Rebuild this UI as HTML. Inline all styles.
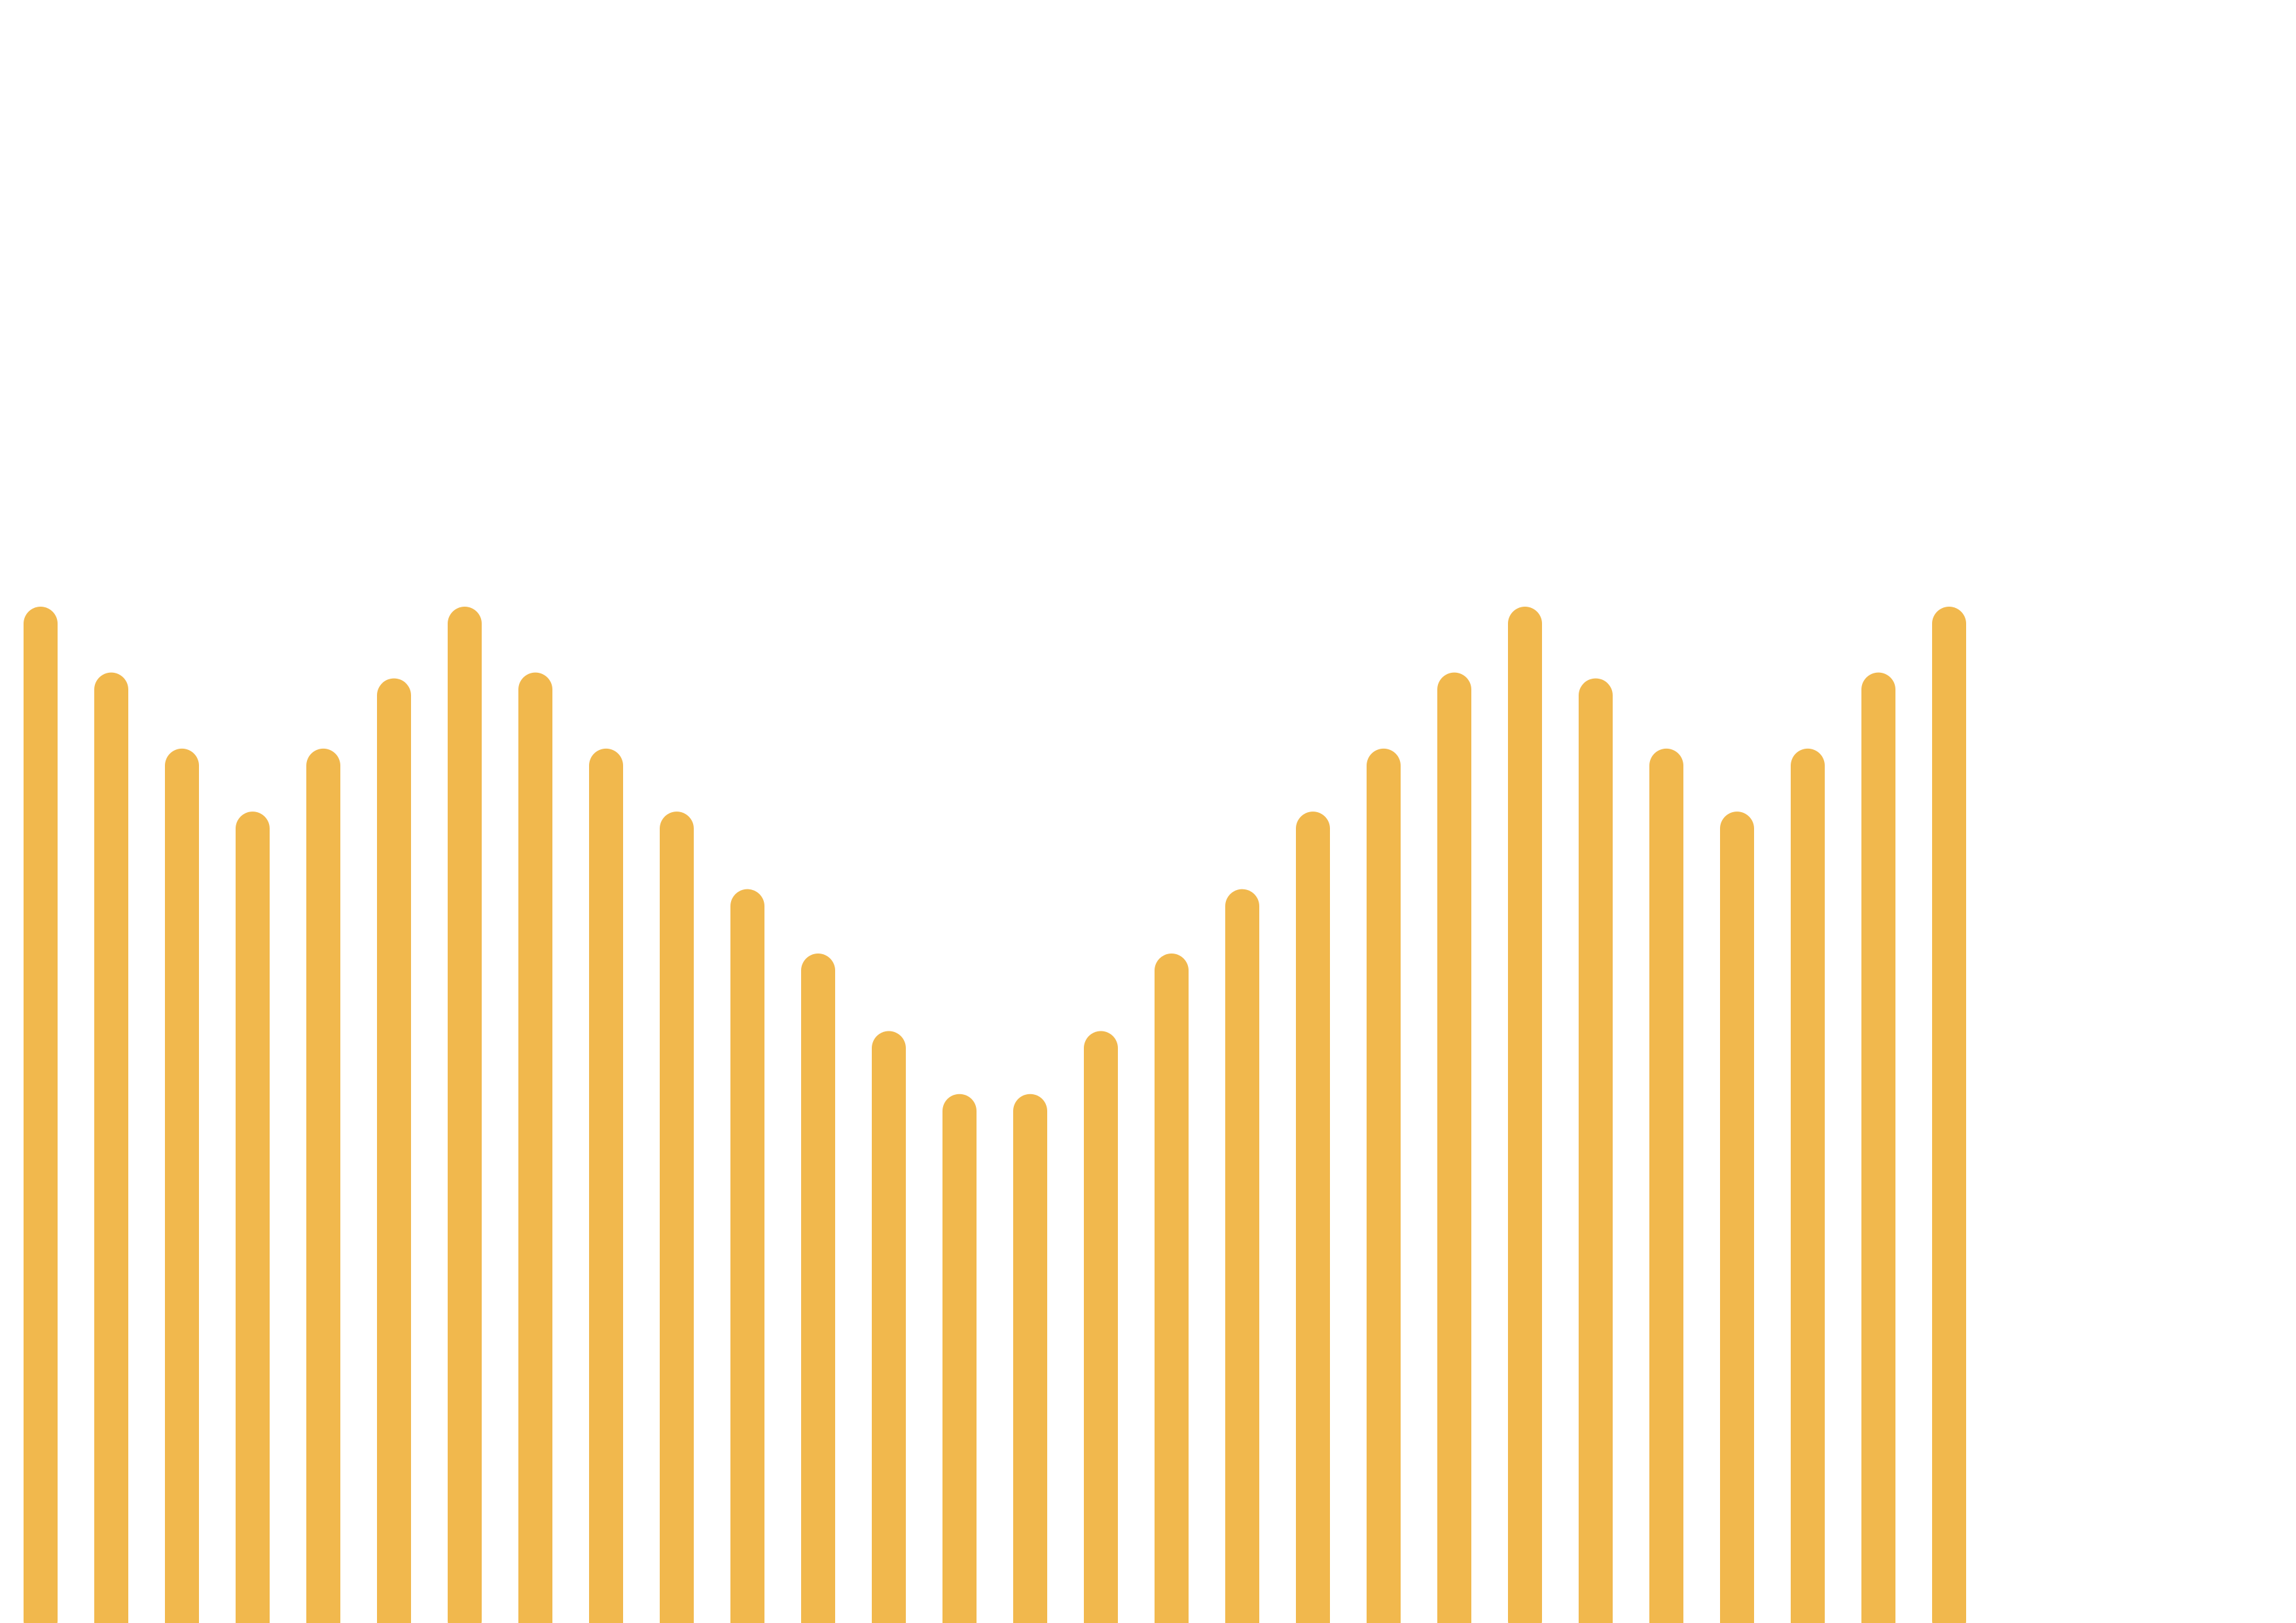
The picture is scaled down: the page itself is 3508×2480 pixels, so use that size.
<!DOCTYPE html>
<html><head><meta charset="utf-8"><style>html,body{margin:0;padding:0;background:#fff;overflow:hidden;}svg{display:block;}</style></head>
<body>
<svg id="chart" width="3508" height="2480" viewBox="0 0 3508 2480" xmlns="http://www.w3.org/2000/svg"></svg>
<script>
const categories = Array.from({length:28},(_,i)=>'c'+(i+1));
const values = [694,649,597,554,597,645,694,649,597,554,501,457,404,361,361,404,457,501,554,597,649,694,645,597,554,597,649,694];
const svg = document.getElementById('chart');
const NS = 'http://www.w3.org/2000/svg';
const baseY = 2479, maxV = 694, plotH = 1552;
const x0 = 36, step = 108, bw = 52;
function xScale(i){ return x0 + i*step; }
function yScale(v){ return baseY - v/maxV*plotH; }
values.forEach((v,i)=>{
  const top = yScale(v);
  const bottom = v >= maxV ? baseY + 23 : baseY + 60;
  const r = document.createElementNS(NS,'rect');
  r.setAttribute('x', xScale(i));
  r.setAttribute('y', top);
  r.setAttribute('width', bw);
  r.setAttribute('height', bottom - top);
  r.setAttribute('rx', 26);
  r.setAttribute('fill', '#F1B84D');
  
  
  svg.appendChild(r);
});
</script>
</body></html>
